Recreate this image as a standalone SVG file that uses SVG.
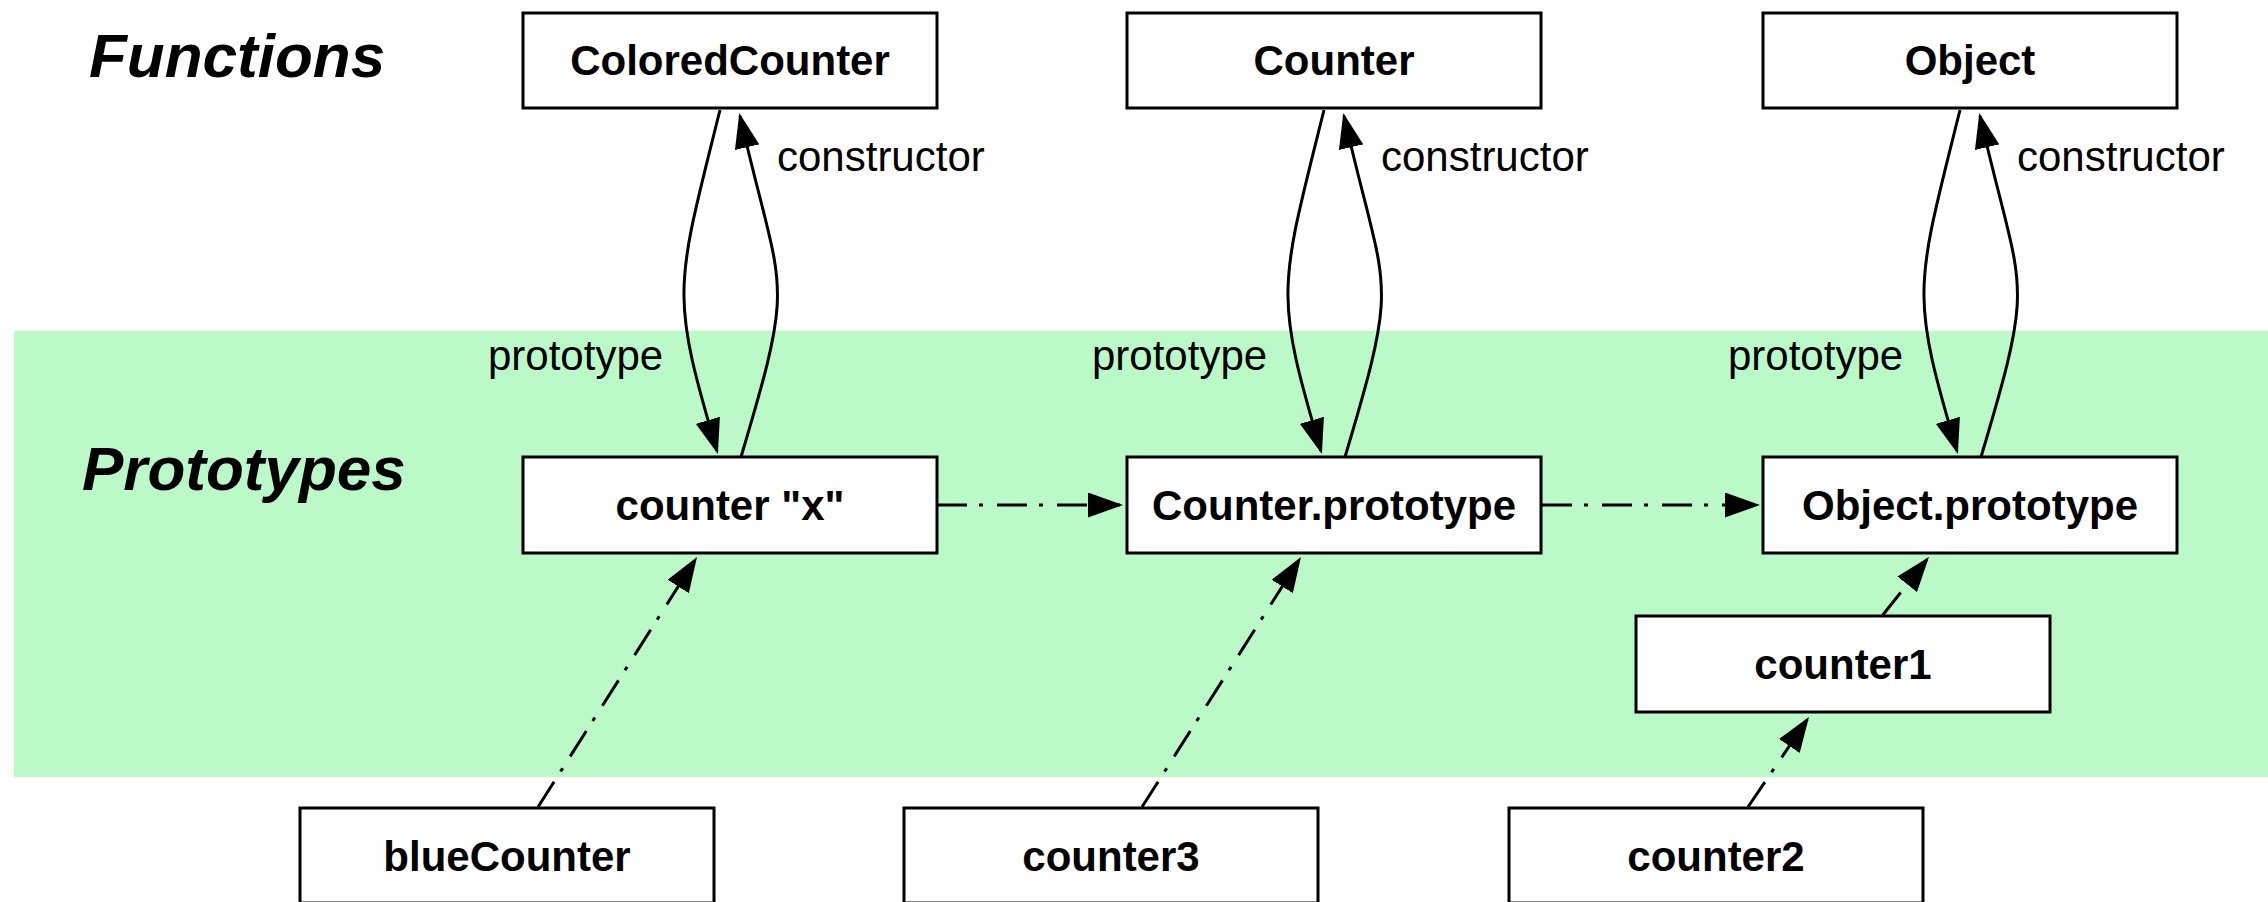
<svg xmlns="http://www.w3.org/2000/svg" width="2268" height="902" viewBox="0 0 2268 902">
  <style>
    .box { fill: #ffffff; stroke: #000000; stroke-width: 3; }
    .name { font-family: "Liberation Sans", Arial, Helvetica, sans-serif; font-size: 42px; font-weight: bold; text-anchor: middle; fill: #000000; }
    .label { font-family: "Liberation Sans", Arial, Helvetica, sans-serif; font-size: 42px; fill: #000000; }
    .title { font-family: "Liberation Sans", Arial, Helvetica, sans-serif; font-size: 62px; font-weight: bold; font-style: italic; fill: #000000; }
    .link { fill: none; stroke: #000000; stroke-width: 3; marker-end: url(#arrow); }
    .chain { stroke-dasharray: 30 12 4 14; }
  </style>
  <defs>
    <marker id="arrow" markerUnits="userSpaceOnUse" markerWidth="35" markerHeight="25" viewBox="0 0 35 25" refX="32" refY="12.5" orient="auto">
      <path d="M0,0 L35,12.5 L0,25 z" fill="#000000"/>
    </marker>
  </defs>

  <rect width="2268" height="902" fill="#ffffff"/>
  <!-- prototype layer band -->
  <rect id="prototype-band" x="14" y="331" width="2254" height="446" fill="#bbf9c8"/>

  <text class="title" x="89" y="77">Functions</text>
  <text class="title" x="82" y="490">Prototypes</text>

  <g id="connectors">
    <!-- function <-> prototype pairs -->
    <path class="link" d="M720,110 C675,290 670,292 717,451"/>
    <path class="link" d="M741,457 C797,269 782,300 740,116"/>
    <path class="link" d="M1324,110 C1279,290 1274,292 1321,451"/>
    <path class="link" d="M1345,457 C1401,269 1386,300 1344,116"/>
    <path class="link" d="M1960,110 C1915,290 1910,292 1957,451"/>
    <path class="link" d="M1981,457 C2037,269 2022,300 1980,116"/>
    <!-- prototype chain -->
    <path class="link chain" d="M937,505 L1120,505"/>
    <path class="link chain" d="M1542,505 L1757,505"/>
    <path class="link chain" d="M538,807 L695.4,559.5"/>
    <path class="link chain" d="M1142,807 L1299.4,559.5"/>
    <path class="link chain" d="M1748,807 L1807.3,719.5"/>
    <path class="link chain" d="M1882,616 L1927.1,559.3"/>
  </g>

  <g id="ColoredCounter">
    <rect class="box" x="523" y="13" width="414" height="95"/>
    <text class="name" x="730" y="75">ColoredCounter</text>
  </g>
  <g id="Counter">
    <rect class="box" x="1127" y="13" width="414" height="95"/>
    <text class="name" x="1334" y="75">Counter</text>
  </g>
  <g id="Object">
    <rect class="box" x="1763" y="13" width="414" height="95"/>
    <text class="name" x="1970" y="75">Object</text>
  </g>

  <g id="counter-x">
    <rect class="box" x="523" y="457" width="414" height="96"/>
    <text class="name" x="730" y="520">counter "x"</text>
  </g>
  <g id="Counter-prototype">
    <rect class="box" x="1127" y="457" width="414" height="96"/>
    <text class="name" x="1334" y="520">Counter.prototype</text>
  </g>
  <g id="Object-prototype">
    <rect class="box" x="1763" y="457" width="414" height="96"/>
    <text class="name" x="1970" y="520">Object.prototype</text>
  </g>

  <g id="counter1">
    <rect class="box" x="1636" y="616" width="414" height="96"/>
    <text class="name" x="1843" y="679">counter1</text>
  </g>

  <g id="blueCounter">
    <rect class="box" x="300" y="808" width="414" height="95"/>
    <text class="name" x="507" y="871">blueCounter</text>
  </g>
  <g id="counter3">
    <rect class="box" x="904" y="808" width="414" height="95"/>
    <text class="name" x="1111" y="871">counter3</text>
  </g>
  <g id="counter2">
    <rect class="box" x="1509" y="808" width="414" height="95"/>
    <text class="name" x="1716" y="871">counter2</text>
  </g>

  <g id="edge-labels">
    <text class="label" x="777" y="171">constructor</text>
    <text class="label" x="1381" y="171">constructor</text>
    <text class="label" x="2017" y="171">constructor</text>
    <text class="label" x="488" y="370">prototype</text>
    <text class="label" x="1092" y="370">prototype</text>
    <text class="label" x="1728" y="370">prototype</text>
  </g>
</svg>
